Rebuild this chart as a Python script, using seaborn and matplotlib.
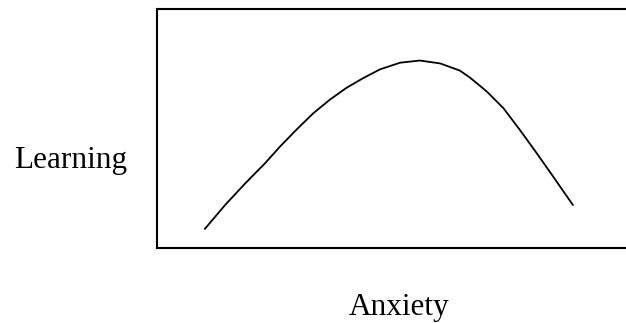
import matplotlib
matplotlib.use('Agg')
import matplotlib.pyplot as plt
import seaborn as sns
import pandas as pd

# Curva de Yerkes-Dodson: aprendizaje frente a ansiedad (escala 0-10)
anxiety = [1.03, 1.46, 1.89, 2.31, 2.63, 2.99, 3.34, 3.70, 4.05, 4.40, 4.76,
           5.19, 5.61, 6.04, 6.46, 6.68, 7.03, 7.39, 7.74, 8.10, 8.45, 8.87]
learning = [0.80, 1.80, 2.71, 3.55, 4.25, 4.98, 5.65, 6.23, 6.72, 7.12, 7.49,
            7.77, 7.86, 7.74, 7.44, 7.14, 6.57, 5.86, 4.95, 3.97, 2.99, 1.80]

df = pd.DataFrame({'Anxiety': anxiety, 'Learning': learning})

sns.set_style('white')
plt.rcParams['font.family'] = ['Liberation Serif', 'DejaVu Serif']
plt.rcParams['text.color'] = 'black'

fig = plt.figure(figsize=(6.26, 3.23), dpi=100)
ax = fig.add_axes([0.25, 0.2322, 0.75, 0.7384])

sns.lineplot(data=df, x='Anxiety', y='Learning', sort=False, estimator=None,
             color='black', linewidth=1.3, ax=ax)

ax.set_xlim(0, 10)
ax.set_ylim(0, 10)
ax.set_xticks([])
ax.set_yticks([])
ax.set_xlabel('')
ax.set_ylabel('')
for side in ['top', 'left', 'bottom']:
    ax.spines[side].set_color('black')
    ax.spines[side].set_linewidth(1.5)
ax.spines['right'].set_visible(False)

# Etiquetas de los ejes
fig.text(14 / 626, (323 - 168) / 323, 'Learning', ha='left', va='baseline',
         fontsize=22.5, color='black')
fig.text(399.5 / 626, (323 - 315) / 323, 'Anxiety', ha='center', va='baseline',
         fontsize=22.5, color='black')

plt.savefig('out.png', dpi=100)
